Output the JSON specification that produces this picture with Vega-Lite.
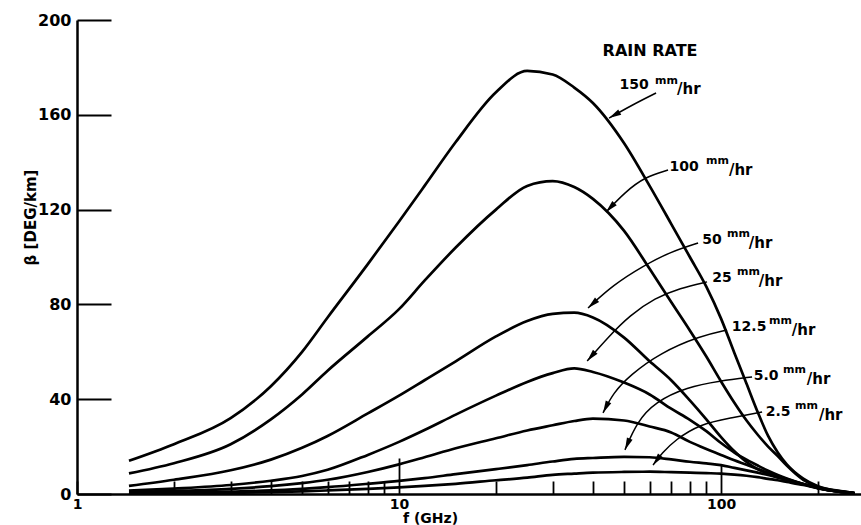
{
  "$schema": "https://vega.github.io/schema/vega-lite/v6.json",
  "width": 784,
  "height": 474,
  "autosize": {"type": "none"},
  "padding": {"left": 77, "top": 20, "right": 0, "bottom": 31},
  "background": "white",
  "config": {"view": {"stroke": null}, "font": "DejaVu Sans"},
  "datasets": {
    "curves": [
      {"r":"150","f":1.45,"b":14},{"r":"150","f":2,"b":21},{"r":"150","f":3,"b":32},{"r":"150","f":4,"b":45.5},{"r":"150","f":5,"b":60},{"r":"150","f":6,"b":74.5},{"r":"150","f":8,"b":97},{"r":"150","f":10,"b":115},{"r":"150","f":12,"b":130},{"r":"150","f":15,"b":148.5},{"r":"150","f":20,"b":169.5},{"r":"150","f":25,"b":178.5},{"r":"150","f":30,"b":177},{"r":"150","f":35,"b":171.5},{"r":"150","f":40,"b":165},{"r":"150","f":50,"b":148},{"r":"150","f":60,"b":130},{"r":"150","f":70,"b":114},{"r":"150","f":80,"b":100},{"r":"150","f":90,"b":87.5},{"r":"150","f":100,"b":74},{"r":"150","f":110,"b":59.5},{"r":"150","f":120,"b":46.5},{"r":"150","f":130,"b":34.5},{"r":"150","f":140,"b":24.5},{"r":"150","f":150,"b":17.5},{"r":"150","f":160,"b":12.5},{"r":"150","f":180,"b":6.5},{"r":"150","f":200,"b":3.3},{"r":"150","f":230,"b":1.4},{"r":"150","f":260,"b":0.4},
      {"r":"100","f":1.45,"b":8.7},{"r":"100","f":2,"b":13},{"r":"100","f":3,"b":21},{"r":"100","f":4,"b":31.5},{"r":"100","f":5,"b":42},{"r":"100","f":6,"b":52},{"r":"100","f":8,"b":66.5},{"r":"100","f":10,"b":78},{"r":"100","f":12,"b":90},{"r":"100","f":15,"b":104},{"r":"100","f":20,"b":120},{"r":"100","f":25,"b":130},{"r":"100","f":30,"b":132},{"r":"100","f":35,"b":129.5},{"r":"100","f":40,"b":124.5},{"r":"100","f":50,"b":111},{"r":"100","f":60,"b":95},{"r":"100","f":70,"b":81},{"r":"100","f":80,"b":69},{"r":"100","f":90,"b":58},{"r":"100","f":100,"b":47.5},{"r":"100","f":110,"b":38.5},{"r":"100","f":120,"b":31},{"r":"100","f":130,"b":25},{"r":"100","f":140,"b":20},{"r":"100","f":150,"b":16},{"r":"100","f":160,"b":12},{"r":"100","f":180,"b":6},{"r":"100","f":200,"b":3},{"r":"100","f":230,"b":1.3},{"r":"100","f":260,"b":0.4},
      {"r":"50","f":1.45,"b":3.4},{"r":"50","f":2,"b":6},{"r":"50","f":3,"b":10},{"r":"50","f":4,"b":14.5},{"r":"50","f":5,"b":19.5},{"r":"50","f":6,"b":24.5},{"r":"50","f":8,"b":34},{"r":"50","f":10,"b":41.5},{"r":"50","f":12,"b":48},{"r":"50","f":15,"b":56},{"r":"50","f":20,"b":66.5},{"r":"50","f":25,"b":73},{"r":"50","f":30,"b":76},{"r":"50","f":35,"b":76.5},{"r":"50","f":40,"b":74.5},{"r":"50","f":50,"b":66},{"r":"50","f":60,"b":56},{"r":"50","f":70,"b":48},{"r":"50","f":80,"b":39.5},{"r":"50","f":90,"b":31.5},{"r":"50","f":100,"b":24},{"r":"50","f":110,"b":18},{"r":"50","f":120,"b":13.5},{"r":"50","f":130,"b":10.5},{"r":"50","f":140,"b":8.5},{"r":"50","f":150,"b":7},{"r":"50","f":160,"b":6},{"r":"50","f":180,"b":4.2},{"r":"50","f":200,"b":2.6},{"r":"50","f":230,"b":1.1},{"r":"50","f":260,"b":0.3},
      {"r":"25","f":1.45,"b":1.4},{"r":"25","f":2,"b":2.3},{"r":"25","f":3,"b":3.8},{"r":"25","f":4,"b":5.6},{"r":"25","f":5,"b":7.6},{"r":"25","f":6,"b":10.2},{"r":"25","f":8,"b":16.5},{"r":"25","f":10,"b":22},{"r":"25","f":12,"b":27},{"r":"25","f":15,"b":33.5},{"r":"25","f":20,"b":41.5},{"r":"25","f":25,"b":47.3},{"r":"25","f":30,"b":51},{"r":"25","f":35,"b":53},{"r":"25","f":40,"b":51.5},{"r":"25","f":50,"b":47},{"r":"25","f":60,"b":42},{"r":"25","f":70,"b":36},{"r":"25","f":80,"b":31.3},{"r":"25","f":90,"b":26.5},{"r":"25","f":100,"b":21.5},{"r":"25","f":110,"b":17.5},{"r":"25","f":120,"b":14.5},{"r":"25","f":130,"b":12},{"r":"25","f":140,"b":9.8},{"r":"25","f":150,"b":8},{"r":"25","f":160,"b":6.5},{"r":"25","f":180,"b":4.2},{"r":"25","f":200,"b":2.6},{"r":"25","f":230,"b":1.1},{"r":"25","f":260,"b":0.3},
      {"r":"12.5","f":1.45,"b":0.8},{"r":"12.5","f":2,"b":1.3},{"r":"12.5","f":3,"b":2.2},{"r":"12.5","f":4,"b":3.3},{"r":"12.5","f":5,"b":4.6},{"r":"12.5","f":6,"b":6},{"r":"12.5","f":8,"b":9.3},{"r":"12.5","f":10,"b":12.5},{"r":"12.5","f":12,"b":15.5},{"r":"12.5","f":15,"b":19.3},{"r":"12.5","f":20,"b":23.5},{"r":"12.5","f":25,"b":26.8},{"r":"12.5","f":30,"b":29},{"r":"12.5","f":35,"b":30.8},{"r":"12.5","f":40,"b":31.8},{"r":"12.5","f":50,"b":31},{"r":"12.5","f":60,"b":28.5},{"r":"12.5","f":70,"b":26},{"r":"12.5","f":80,"b":22},{"r":"12.5","f":90,"b":19},{"r":"12.5","f":100,"b":16.5},{"r":"12.5","f":110,"b":14.2},{"r":"12.5","f":120,"b":12.3},{"r":"12.5","f":130,"b":10.5},{"r":"12.5","f":140,"b":9},{"r":"12.5","f":150,"b":7.6},{"r":"12.5","f":160,"b":6.3},{"r":"12.5","f":180,"b":4.2},{"r":"12.5","f":200,"b":2.6},{"r":"12.5","f":230,"b":1.1},{"r":"12.5","f":260,"b":0.3},
      {"r":"5.0","f":1.45,"b":0.4},{"r":"5.0","f":2,"b":0.6},{"r":"5.0","f":3,"b":1},{"r":"5.0","f":4,"b":1.5},{"r":"5.0","f":5,"b":2.2},{"r":"5.0","f":6,"b":2.9},{"r":"5.0","f":8,"b":4.3},{"r":"5.0","f":10,"b":5.5},{"r":"5.0","f":12,"b":6.7},{"r":"5.0","f":15,"b":8.4},{"r":"5.0","f":20,"b":10.5},{"r":"5.0","f":25,"b":12.2},{"r":"5.0","f":30,"b":13.7},{"r":"5.0","f":35,"b":14.8},{"r":"5.0","f":40,"b":15.2},{"r":"5.0","f":50,"b":15.7},{"r":"5.0","f":60,"b":15.5},{"r":"5.0","f":70,"b":14.6},{"r":"5.0","f":80,"b":13.6},{"r":"5.0","f":90,"b":12.9},{"r":"5.0","f":100,"b":12.2},{"r":"5.0","f":110,"b":11},{"r":"5.0","f":120,"b":10},{"r":"5.0","f":130,"b":9},{"r":"5.0","f":140,"b":8},{"r":"5.0","f":150,"b":7},{"r":"5.0","f":160,"b":6},{"r":"5.0","f":180,"b":4.1},{"r":"5.0","f":200,"b":2.5},{"r":"5.0","f":230,"b":1.1},{"r":"5.0","f":260,"b":0.3},
      {"r":"2.5","f":1.45,"b":0.2},{"r":"2.5","f":2,"b":0.3},{"r":"2.5","f":3,"b":0.5},{"r":"2.5","f":4,"b":0.8},{"r":"2.5","f":5,"b":1.1},{"r":"2.5","f":6,"b":1.5},{"r":"2.5","f":8,"b":2.2},{"r":"2.5","f":10,"b":2.8},{"r":"2.5","f":12,"b":3.4},{"r":"2.5","f":15,"b":4.3},{"r":"2.5","f":20,"b":5.8},{"r":"2.5","f":25,"b":6.9},{"r":"2.5","f":30,"b":8.1},{"r":"2.5","f":35,"b":8.6},{"r":"2.5","f":40,"b":9},{"r":"2.5","f":50,"b":9.3},{"r":"2.5","f":60,"b":9.4},{"r":"2.5","f":70,"b":9.2},{"r":"2.5","f":80,"b":9},{"r":"2.5","f":90,"b":8.8},{"r":"2.5","f":100,"b":8.6},{"r":"2.5","f":110,"b":8.2},{"r":"2.5","f":120,"b":7.7},{"r":"2.5","f":130,"b":7.1},{"r":"2.5","f":140,"b":6.4},{"r":"2.5","f":150,"b":5.8},{"r":"2.5","f":160,"b":5.1},{"r":"2.5","f":180,"b":3.8},{"r":"2.5","f":200,"b":2.4},{"r":"2.5","f":230,"b":1.1},{"r":"2.5","f":260,"b":0.3}
    ],
    "leaders": [
      {"id":"150","i":0,"f":62.83,"b":169.2},{"id":"150","i":1,"f":52.9,"b":164.1},{"id":"150","i":2,"f":44.9,"b":158.6},
      {"id":"100","i":0,"f":68.45,"b":136.7},{"id":"100","i":1,"f":58.07,"b":133.8},{"id":"100","i":2,"f":50.34,"b":127.4},{"id":"100","i":3,"f":43.95,"b":119.0},
      {"id":"50","i":0,"f":84.84,"b":105.9},{"id":"50","i":1,"f":69.44,"b":102.1},{"id":"50","i":2,"f":57.25,"b":96.2},{"id":"50","i":3,"f":46.19,"b":88.2},{"id":"50","i":4,"f":38.63,"b":78.5},
      {"id":"25","i":0,"f":90.47,"b":89.5},{"id":"25","i":1,"f":74.6,"b":86.9},{"id":"25","i":2,"f":62.37,"b":82.7},{"id":"25","i":3,"f":52.2,"b":75.5},{"id":"25","i":4,"f":44.6,"b":66.2},{"id":"25","i":5,"f":38.4,"b":56.1},
      {"id":"12.5","i":0,"f":104.4,"b":69.2},{"id":"12.5","i":1,"f":86.05,"b":66.7},{"id":"12.5","i":2,"f":64.65,"b":59.5},{"id":"12.5","i":3,"f":52.2,"b":50.2},{"id":"12.5","i":4,"f":46.2,"b":42.6},{"id":"12.5","i":5,"f":43.0,"b":34.2},
      {"id":"5.0","i":0,"f":124.8,"b":49.4},{"id":"5.0","i":1,"f":99.3,"b":47.7},{"id":"5.0","i":2,"f":78.4,"b":45.1},{"id":"5.0","i":3,"f":62.37,"b":38.8},{"id":"5.0","i":4,"f":54.8,"b":30.4},{"id":"5.0","i":5,"f":50.3,"b":18.6},
      {"id":"2.5","i":0,"f":134.1,"b":34.6},{"id":"2.5","i":1,"f":106.7,"b":32.1},{"id":"2.5","i":2,"f":86.05,"b":29.5},{"id":"2.5","i":3,"f":71.96,"b":22.8},{"id":"2.5","i":4,"f":65.6,"b":17.3},{"id":"2.5","i":5,"f":61.5,"b":12.2}
    ],
    "tips": [
      {"id":"150","f":44.9,"b":158.6,"a":240.5},
      {"id":"100","f":43.95,"b":119.0,"a":223.5},
      {"id":"50","f":38.63,"b":78.5,"a":227.4},
      {"id":"25","f":38.4,"b":56.1,"a":221.2},
      {"id":"12.5","f":43.0,"b":34.2,"a":206.6},
      {"id":"5.0","f":50.3,"b":18.6,"a":203.2},
      {"id":"2.5","f":61.5,"b":12.2,"a":216.9}
    ],
    "nums": [
      {"t":"150","f":53.69,"b":172.6},{"t":"100","f":76.77,"b":138.0},{"t":"50","f":93.76,"b":107.2},{"t":"25","f":100.7,"b":91.1},{"t":"12.5","f":122.2,"b":70.5},{"t":"5.0","f":138.0,"b":49.8},{"t":"2.5","f":150.3,"b":34.6}
    ],
    "mm": [
      {"t":"mm","f":62.37,"b":174.3},{"t":"mm","f":89.83,"b":140.5},{"t":"mm","f":104.4,"b":109.7},{"t":"mm","f":112.1,"b":93.7},{"t":"mm","f":141.0,"b":73.0},{"t":"mm","f":155.8,"b":52.3},{"t":"mm","f":169.7,"b":37.1}
    ],
    "hr": [
      {"t":"/hr","f":73.0,"b":170.9},{"t":"/hr","f":105.8,"b":136.7},{"t":"/hr","f":122.0,"b":105.9},{"t":"/hr","f":131.0,"b":89.9},{"t":"/hr","f":165.9,"b":69.2},{"t":"/hr","f":184.7,"b":48.5},{"t":"/hr","f":201.3,"b":33.3}
    ],
    "title": [{"t":"RAIN RATE","f":60.18,"b":186.9}]
  },
  "layer": [
    {
      "data": {"name": "curves"},
      "mark": {"type": "line", "color": "black", "strokeWidth": 2.7, "interpolate": "monotone"},
      "encoding": {
        "x": {
          "field": "f", "type": "quantitative",
          "scale": {"type": "log", "domain": [1, 272], "nice": false},
          "axis": {
            "title": "f (GHz)",
            "values": [1,2,3,4,5,6,7,8,9,10,20,30,40,50,60,70,80,90,100,200],
            "format": "d",
            "labelExpr": "datum.value == 1 || datum.value == 10 || datum.value == 100 ? datum.label : ''",
            "grid": false,
            "domainColor": "black", "domainWidth": 2.5,
            "ticks": true, "tickColor": "black", "tickWidth": 1.8,
            "tickSize": {"expr": "datum.value == 10 ? -36 : datum.value == 100 ? -30 : -13"},
            "labelPadding": {"expr": "datum.value == 10 ? 39 : datum.value == 100 ? 33 : 16"},
            "labelFont": "DejaVu Sans", "labelFontWeight": "bold", "labelFontSize": 14, "labelColor": "black",
            "labelFlush": false, "labelOverlap": false,
            "titleFont": "DejaVu Sans", "titleFontWeight": "bold", "titleFontSize": 14, "titleColor": "black",
            "titleX": 353, "titleY": 17, "titleBaseline": "top"
          }
        },
        "y": {
          "field": "b", "type": "quantitative",
          "scale": {"domain": [0, 200], "nice": false},
          "axis": {
            "title": "β [DEG/km]",
            "values": [0, 40, 80, 120, 160, 200],
            "grid": false,
            "domainColor": "black", "domainWidth": 2.5,
            "ticks": true, "tickColor": "black", "tickWidth": 2, "tickSize": -34,
            "labelPadding": 40,
            "labelFont": "DejaVu Sans", "labelFontWeight": "bold", "labelFontSize": 16, "labelColor": "black",
            "titleFont": "DejaVu Sans", "titleFontWeight": "bold", "titleFontSize": 15, "titleColor": "black",
            "titleX": -39, "titleY": 197, "titleAngle": -90, "titleBaseline": "bottom", "titleAlign": "center"
          }
        },
        "detail": {"field": "r"}
      }
    },
    {
      "mark": {"type": "rule", "color": "black", "strokeWidth": 2},
      "encoding": {"y": {"datum": 200}}
    },
    {
      "data": {"name": "leaders"},
      "mark": {"type": "line", "color": "black", "strokeWidth": 1.5, "interpolate": "basis"},
      "encoding": {
        "x": {"field": "f", "type": "quantitative"},
        "y": {"field": "b", "type": "quantitative"},
        "detail": {"field": "id"},
        "order": {"field": "i"}
      }
    },
    {
      "data": {"name": "tips"},
      "mark": {"type": "point", "shape": "M0,0L-0.5,2L0.5,2Z", "filled": true, "color": "black", "opacity": 1, "size": 150, "strokeWidth": 0},
      "encoding": {
        "x": {"field": "f", "type": "quantitative"},
        "y": {"field": "b", "type": "quantitative"},
        "angle": {"field": "a", "type": "quantitative", "scale": null}
      }
    },
    {
      "data": {"name": "nums"},
      "mark": {"type": "text", "font": "DejaVu Sans", "fontWeight": "bold", "fontSize": 14, "align": "center", "baseline": "middle", "color": "black"},
      "encoding": {
        "x": {"field": "f", "type": "quantitative"},
        "y": {"field": "b", "type": "quantitative"},
        "text": {"field": "t"}
      }
    },
    {
      "data": {"name": "mm"},
      "mark": {"type": "text", "font": "DejaVu Sans", "fontWeight": "bold", "fontSize": 11, "align": "left", "baseline": "middle", "color": "black"},
      "encoding": {
        "x": {"field": "f", "type": "quantitative"},
        "y": {"field": "b", "type": "quantitative"},
        "text": {"field": "t"}
      }
    },
    {
      "data": {"name": "hr"},
      "mark": {"type": "text", "font": "DejaVu Sans", "fontWeight": "bold", "fontSize": 15, "align": "left", "baseline": "middle", "color": "black"},
      "encoding": {
        "x": {"field": "f", "type": "quantitative"},
        "y": {"field": "b", "type": "quantitative"},
        "text": {"field": "t"}
      }
    },
    {
      "data": {"name": "title"},
      "mark": {"type": "text", "font": "DejaVu Sans", "fontWeight": "bold", "fontSize": 16, "align": "center", "baseline": "middle", "color": "black"},
      "encoding": {
        "x": {"field": "f", "type": "quantitative"},
        "y": {"field": "b", "type": "quantitative"},
        "text": {"field": "t"}
      }
    }
  ]
}
